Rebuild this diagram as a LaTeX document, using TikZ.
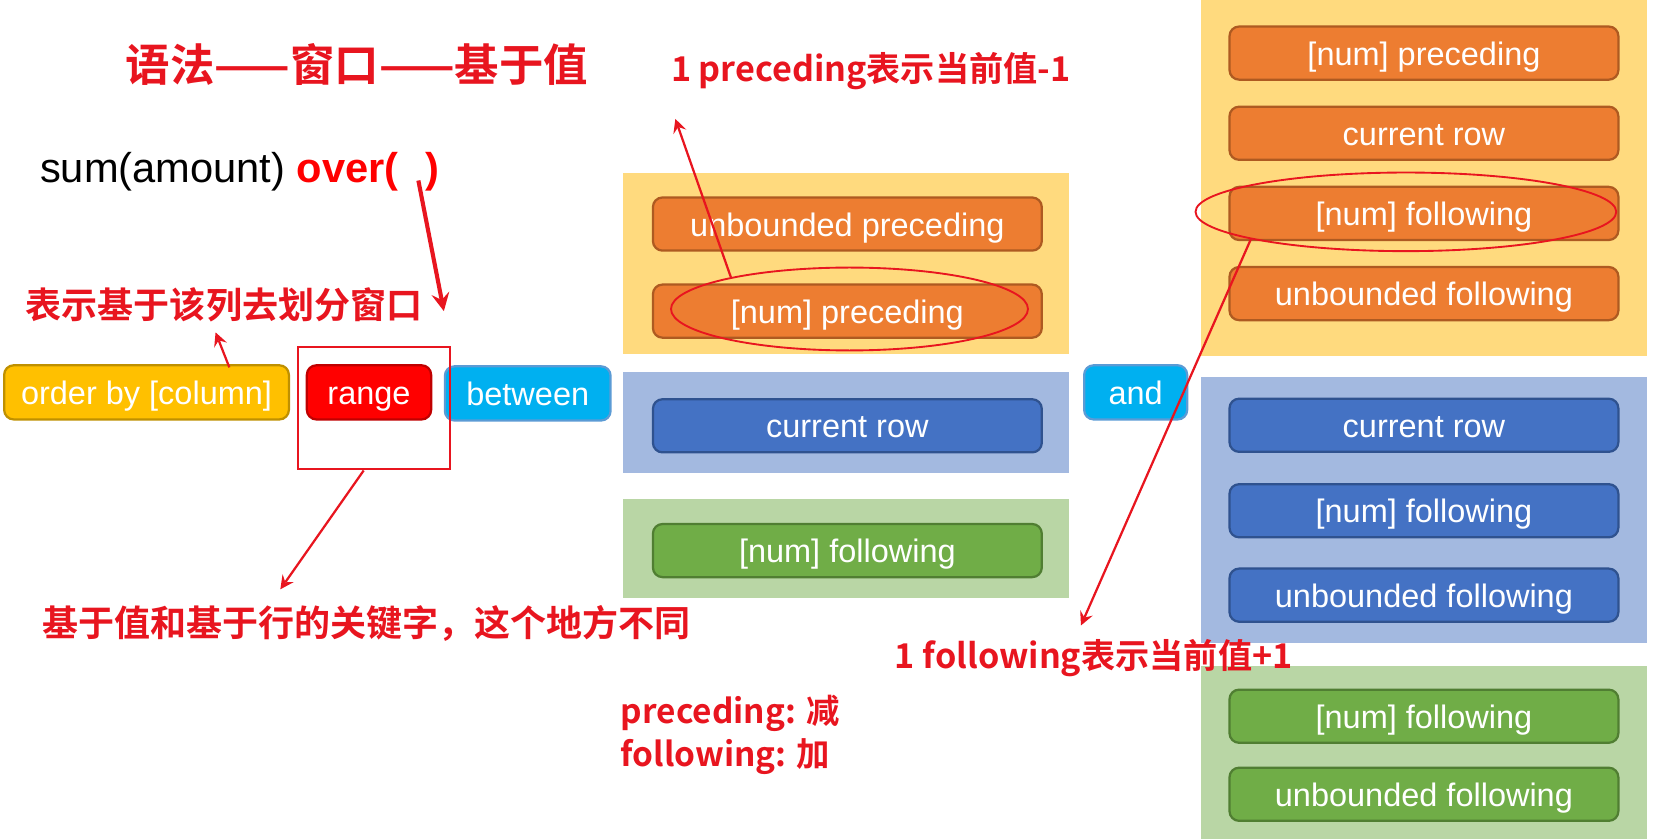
\documentclass[tikz,border=0pt]{standalone}
\usepackage{fontspec}
\setmainfont{Liberation Sans}
\newfontfamily\cjk{Noto Sans CJK SC Bold}
\usetikzlibrary{shapes.geometric}

\definecolor{notered}{HTML}{E8151F}
\definecolor{kwyellow}{HTML}{FFC000}
\definecolor{kwyellowline}{HTML}{BF9000}
\definecolor{kwred}{HTML}{FF0000}
\definecolor{kwredline}{HTML}{C00000}
\definecolor{kwcyan}{HTML}{00B0F0}
\definecolor{kwcyanline}{HTML}{5B9BD5}
\definecolor{boxorange}{HTML}{ED7D31}
\definecolor{boxorangeline}{HTML}{AE5A21}
\definecolor{boxblue}{HTML}{4472C4}
\definecolor{boxblueline}{HTML}{2F528F}
\definecolor{boxgreen}{HTML}{70AD47}
\definecolor{boxgreenline}{HTML}{507E32}
\definecolor{panelyellow}{HTML}{FFDA7E}
\definecolor{panelblue}{HTML}{A3B9E0}
\definecolor{panelgreen}{HTML}{B9D6A5}

\tikzset{
  kw/.style={draw, rounded corners=0.9mm, line width=0.6pt, text=white,
    font=\fontsize{8.7}{10}\selectfont, minimum height=0.5cm, inner sep=0pt,
    text height=6.5pt, text depth=0pt},
  orangekw/.style={kw, fill=boxorange, draw=boxorangeline, minimum width=3.66cm},
  bluekw/.style={kw, fill=boxblue, draw=boxblueline, minimum width=3.66cm},
  greenkw/.style={kw, fill=boxgreen, draw=boxgreenline, minimum width=3.66cm},
  note/.style={text=notered, inner sep=0pt, font=\cjk\fontsize{9.65}{11}\selectfont},
  ring/.style={draw=notered, ellipse, line width=0.5pt, inner sep=0pt},
  pointer/.style={->, draw=notered, line width=0.6pt},
}

\begin{document}
\begin{tikzpicture}[x=0.01cm, y=-0.01cm, >=stealth]
  \useasboundingbox (0,0) rectangle (1568,791);

  % Background panels
  \fill[panelyellow] (587,163) rectangle (1007,333);
  \fill[panelblue] (587,350) rectangle (1007,445);
  \fill[panelgreen] (587,470) rectangle (1007,563);
  \fill[panelyellow] (1131,0) rectangle (1551,335);
  \fill[panelblue] (1131,355) rectangle (1551,606);
  \fill[panelgreen] (1131,627) rectangle (1551,790);

  % Title and syntax line
  \node[note, font=\cjk\fontsize{11.9}{13}\selectfont] (title) at (336,61) {语法——窗口——基于值};
  \node[anchor=base west, inner sep=0pt, font=\fontsize{11.15}{12}\selectfont] (sumover) at (37,172)
    {sum(amount) \textcolor{kwred}{\bfseries over(\hspace{0.25cm})}};

  % Keywords of the frame clause
  \node[kw, fill=kwyellow, draw=kwyellowline, minimum width=2.68cm, minimum height=0.51cm] (orderby) at (138,369.5) {order by [column]};
  \node[kw, fill=kwred, draw=kwredline, minimum width=1.17cm, minimum height=0.51cm] (range) at (347.5,369.5) {range};
  \node[kw, fill=kwcyan, draw=kwcyanline, minimum width=1.56cm, minimum height=0.51cm] (between) at (497,370.5) {between};
  \node[kw, fill=kwcyan, draw=kwcyanline, minimum width=0.97cm, minimum height=0.51cm] (and) at (1069.5,369.5) {and};

  % Start of the frame
  \node[orangekw] (startunb) at (798,211) {unbounded preceding};
  \node[orangekw] (startpre) at (798,293) {[num] preceding};
  \node[bluekw] (startcur) at (798,401) {current row};
  \node[greenkw] (startfol) at (798,518.5) {[num] following};

  % End of the frame
  \node[orangekw] (endpre) at (1341,50) {[num] preceding};
  \node[orangekw] (endcur) at (1341,125.5) {current row};
  \node[orangekw] (endfol) at (1341,201) {[num] following};
  \node[orangekw] (endunb) at (1341,276.5) {unbounded following};
  \node[bluekw] (endcurb) at (1341,400.5) {current row};
  \node[bluekw] (endfolb) at (1341,481) {[num] following};
  \node[bluekw] (endunbb) at (1341,560.5) {unbounded following};
  \node[greenkw] (endfolg) at (1341,674.5) {[num] following};
  \node[greenkw] (endunbg) at (1341,748) {unbounded following};

  % Marks
  \node[draw=notered, line width=0.6pt, minimum width=1.43cm, minimum height=1.15cm, inner sep=0pt] (rangeframe) at (352.5,384.5) {};
  \node[ring, minimum width=3.36cm, minimum height=0.78cm] (prering) at (800,291) {};
  \node[ring, minimum width=3.96cm, minimum height=0.74cm] (folring) at (1324,199.5) {};

  % Notes
  \node[note] (colnote) at (211,287) {表示基于该列去划分窗口};
  \node[note] (keynote) at (345,587) {基于值和基于行的关键字，这个地方不同};
  \node[note, font=\cjk\fontsize{9.15}{11}\selectfont] (prenote) at (820,67) {1 preceding表示当前值-1};
  \node[note, font=\cjk\fontsize{9.15}{11}\selectfont] (folnote) at (1030,620) {1 following表示当前值+1};
  \node[note, anchor=north west, align=left, font=\cjk\fontsize{8.95}{11.4}\selectfont] (signnote) at (584,654)
    {preceding: 减\\following: 加};

  % Pointers
  \coordinate (overgap) at (394,170);
  \coordinate (overtip) at (418,293);
  \coordinate (colbase) at (216,346);
  \coordinate (coltip) at (203,313);
  \coordinate (keytip) at (264,555);
  \coordinate (pretip) at (636,112);
  \coordinate (foltip) at (1018,589);
  \draw[pointer, line width=1.1pt] (overgap) -- (overtip);
  \draw[pointer] (colbase) -- (coltip);
  \draw[pointer] ([xshift=-0.1cm]rangeframe.south) -- (keytip);
  \draw[pointer] (prering.165) -- (pretip);
  \draw[pointer] (folring.190) -- (foltip);
\end{tikzpicture}
\end{document}
